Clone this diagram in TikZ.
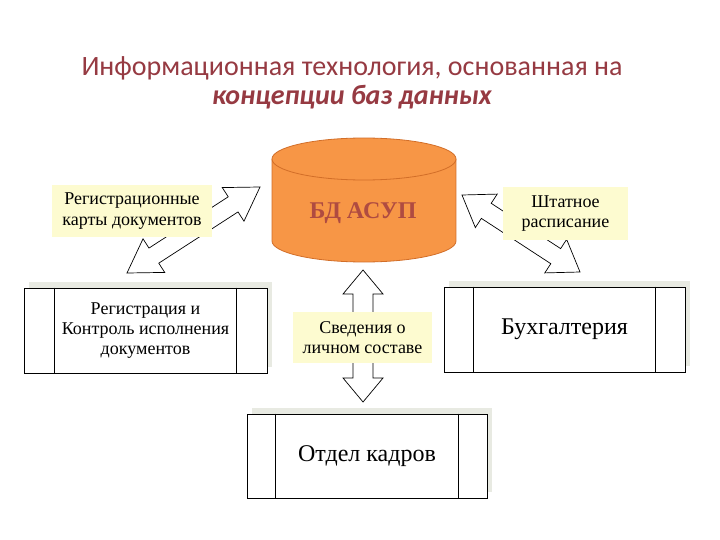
\documentclass[tikz,border=0pt]{standalone}
\usepackage{fontspec}
\setmainfont{Liberation Serif}
\newfontfamily\titlefont{Carlito}
\usetikzlibrary{calc}
\definecolor{titlecol}{RGB}{150,58,66}
\definecolor{dbfill}{RGB}{247,150,70}
\definecolor{dbline}{RGB}{210,110,40}
\definecolor{dbtext}{RGB}{175,75,65}
\definecolor{labelfill}{RGB}{253,251,208}
\definecolor{shadowcol}{RGB}{232,234,226}
\tikzset{
  procbox/.style={draw=black, line width=0.8pt, fill=white, align=center, inner sep=0pt},
  labelbox/.style={fill=labelfill, align=center, inner sep=0pt, font=\fontsize{18}{20.5}\selectfont},
  blockarrow/.style={draw=black, line width=0.7pt, fill=white, line join=miter},
  boxtext/.style={font=\fontsize{18}{20}\selectfont},
  bigtext/.style={font=\fontsize{24}{28}\selectfont},
}
\newcommand\dblblockarrow[5]{%
  \coordinate (#1-h) at ($(#1)!#3!(#2)$);
  \coordinate (#2-h) at ($(#2)!#3!(#1)$);
  \draw[blockarrow] (#1) -- ($(#1-h)!#4!90:(#2)$) -- ($(#1-h)!#5!90:(#2)$)
    -- ($(#2-h)!#5!-90:(#1)$) -- ($(#2-h)!#4!-90:(#1)$) -- (#2)
    -- ($(#2-h)!#4!90:(#1)$) -- ($(#2-h)!#5!90:(#1)$)
    -- ($(#1-h)!#5!-90:(#2)$) -- ($(#1-h)!#4!-90:(#2)$) -- cycle;}
\newcommand\procshadow[1]{%
  \fill[shadowcol] ($(#1.south west)+(5,-6)$) rectangle ($(#1.north east)+(5,-6)$);}
\newcommand\procinner[2]{%
  \draw[line width=0.8pt] ($(#1.north west)+(#2,0)$) -- ($(#1.south west)+(#2,0)$);
  \draw[line width=0.8pt] ($(#1.north east)+(-#2,0)$) -- ($(#1.south east)+(-#2,0)$);}
\begin{document}
\begin{tikzpicture}[x=1pt,y=-1pt]
\fill[white] (0,0) rectangle (720,540);
\useasboundingbox (0,0) rectangle (720,540);

% title
\node[text=titlecol, align=center, font=\titlefont\fontsize{28}{29}\selectfont] (title) at (352,83)
  {Информационная технология, основанная на\\\textbf{\textit{концепции баз данных}}};

% database cylinder
\fill[dbfill] (272,159) rectangle (456,241);
\fill[dbfill] (364,241) ellipse [x radius=92, y radius=21];
\draw[dbline, line width=0.8pt] (272,159) -- (272,241) arc[start angle=180, end angle=0, x radius=92, y radius=21] -- (456,159);
\draw[dbline, line width=0.8pt, fill=dbfill] (364,159) ellipse [x radius=92, y radius=21];
\node[text=dbtext, font=\bfseries\fontsize{24}{28}\selectfont] (db) at (363,213) {БД АСУП};

% process boxes
\path (145.5,330.5) node[procbox, minimum width=243pt, minimum height=85pt] (reg) {};
\path (564.5,329.5) node[procbox, minimum width=241pt, minimum height=85pt] (buh) {};
\path (367,456) node[procbox, minimum width=240pt, minimum height=84pt] (kadr) {};
\procshadow{reg}\procshadow{buh}\procshadow{kadr}
\node[procbox, minimum width=243pt, minimum height=85pt, boxtext] at (reg) {Регистрация и\\Контроль исполнения\\документов};
\node[procbox, minimum width=241pt, minimum height=85pt, bigtext] at (buh) {Бухгалтерия};
\node[procbox, minimum width=240pt, minimum height=84pt, bigtext] at (kadr) {Отдел кадров};
\procinner{reg}{31}
\procinner{buh}{30}
\procinner{kadr}{29}

% block arrows
\coordinate (la1) at (260,187);
\coordinate (la2) at (127,273);
\coordinate (ra1) at (462,195);
\coordinate (ra2) at (580,272);
\coordinate (va1) at (363,270);
\coordinate (va2) at (363,402);
\dblblockarrow{la1}{la2}{32pt}{20pt}{9pt}
\dblblockarrow{ra1}{ra2}{29pt}{20pt}{9pt}
\dblblockarrow{va1}{va2}{24pt}{20pt}{10pt}

% labels
\node[labelbox, minimum width=160pt, minimum height=52pt] (lbl1) at (132,211) {Регистрационные\\карты документов};
\node[labelbox, minimum width=125pt, minimum height=53pt] (lbl2) at (565.5,213.5) {Штатное\\расписание};
\node[labelbox, minimum width=139pt, minimum height=51pt] (lbl3) at (362.5,337.5) {Сведения о\\личном составе};
\end{tikzpicture}
\end{document}
